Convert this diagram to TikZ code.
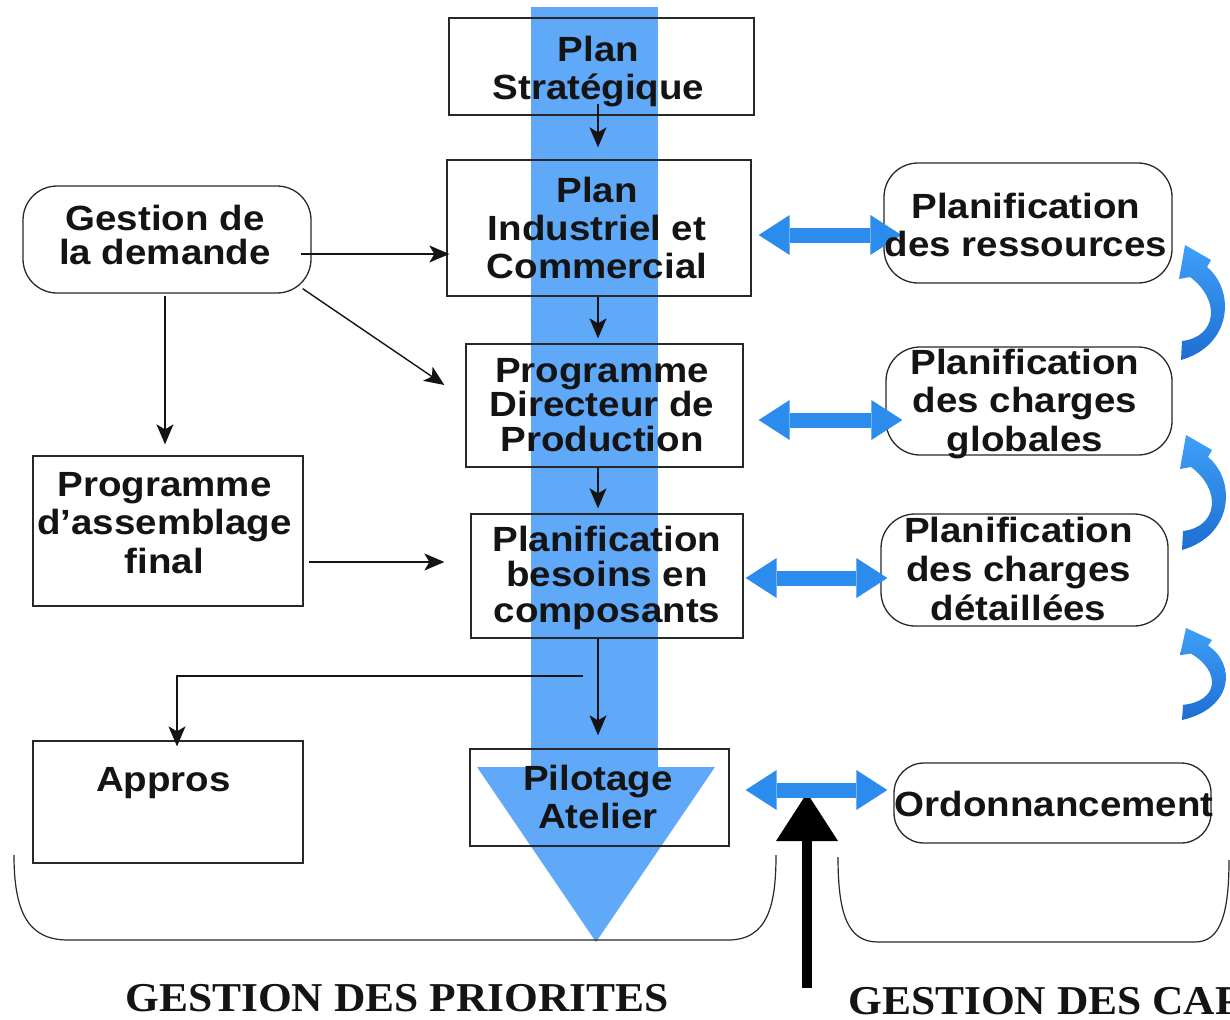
\documentclass[tikz,border=0pt]{standalone}
\usepackage{fontspec}
\usetikzlibrary{arrows.meta,calc}
\newfontfamily\lblfont{Liberation Sans}[FakeStretch=1.1]
\newfontfamily\capfont{Liberation Serif}[FakeStretch=1.06]
\definecolor{bandblue}{RGB}{96,168,248}
\definecolor{arrblue}{RGB}{44,140,238}
\definecolor{curvtop}{RGB}{62,160,248}
\definecolor{curvbot}{RGB}{30,110,210}
\definecolor{edge}{RGB}{40,40,40}
\definecolor{ink}{RGB}{20,20,20}
\begin{document}
\begin{tikzpicture}[x=1pt,y=-1pt,
  box/.style={draw=edge,line width=1.3pt,inner sep=0pt},
  rbox/.style={box,rounded corners=34pt},
  lbl/.style={font=\lblfont\bfseries\fontsize{35}{38}\selectfont,text=ink,align=center,inner sep=0pt},
  arr/.style={draw=ink,line width=1.4pt,-{Stealth[length=20pt,width=17pt,inset=5pt]}},
  dbl/.style={draw=arrblue,line width=15pt,{Triangle[length=31pt,width=40pt,line width=0pt]}-{Triangle[length=31pt,width=40pt,line width=0pt]}},
  brk/.style={draw=edge,line width=1.2pt},
  captxt/.style={font=\capfont\bfseries\fontsize{41}{44}\selectfont,text=ink,inner sep=0pt},
  curv/.pic={\shade[top color=curvtop,bottom color=curvbot]
     (0,0) -- (26,15) -- (22,22) .. controls (50,45) and (48,100) .. (-4,115)
     -- (-3,96) .. controls (32,92) and (36,55) .. (5,32) -- (-6,34) -- cycle;}
]
\fill[white] (0,0) rectangle (1230,1019);
\useasboundingbox (0,0) rectangle (1230,1019);

% blue priority band
\fill[bandblue] (531,7) rectangle (658,767);
\fill[bandblue] (477,767) -- (715,767) -- (596,942) -- cycle;

% boxes
\node[box,minimum width=305pt,minimum height=97pt] (ps) at (601.5,66.5) {};
\node[box,minimum width=304pt,minimum height=136pt] (pic) at (599,228) {};
\node[box,minimum width=277pt,minimum height=123pt] (pdp) at (604.5,405.5) {};
\node[box,minimum width=272pt,minimum height=124pt] (pbc) at (607,576) {};
\node[box,minimum width=259pt,minimum height=97pt] (pil) at (599.5,797.5) {};
\node[rbox,minimum width=288pt,minimum height=107pt] (gd) at (167,239.5) {};
\node[box,minimum width=270pt,minimum height=150pt] (pa) at (168,531) {};
\node[box,minimum width=270pt,minimum height=122pt] (app) at (168,802) {};
\node[rbox,minimum width=288pt,minimum height=120pt] (res) at (1028,223) {};
\node[rbox,minimum width=286pt,minimum height=108pt] (glo) at (1029,401) {};
\node[rbox,minimum width=287pt,minimum height=112pt] (det) at (1024.5,570) {};
\node[rbox,rounded corners=30pt,minimum width=317pt,minimum height=80pt] (ord) at (1052.5,803) {};

% brackets
\draw[brk] (14,855) .. controls (14,912) and (28,940) .. (68,940) -- (728,940) .. controls (768,940) and (776,905) .. (776,855);
\draw[brk] (838,857) .. controls (838,915) and (848,942) .. (878,942) -- (1195,942) .. controls (1220,942) and (1229,915) .. (1229,860);

% black arrows
\draw[arr] ([xshift=-3.5pt,yshift=12pt]ps.south) -- ([xshift=-1pt,yshift=12pt]pic.north);
\draw[arr] ([xshift=-1pt]pic.south) -- ([xshift=-6.5pt,yshift=5pt]pdp.north);
\draw[arr] ([xshift=-6.5pt]pdp.south) -- ([xshift=-9pt,yshift=5pt]pbc.north);
\draw[arr] ([xshift=-9pt]pbc.south) -- ([xshift=-1.5pt,yshift=13pt]pil.north);
\draw[arr] ([xshift=-11pt,yshift=-14.5pt]gd.east) -- ([xshift=3pt,yshift=-26pt]pic.west);
\draw[arr] ([xshift=-9pt,yshift=5pt]gd.south east) -- ([xshift=-21pt,yshift=20.5pt]pdp.west);
\draw[arr] ([xshift=-2pt,yshift=-2pt]gd.south) -- ([xshift=-3pt,yshift=11pt]pa.north);
\draw[arr] ([xshift=5pt,yshift=-31pt]pa.east) -- ([xshift=-26pt,yshift=14pt]pbc.west);
\coordinate (br) at (583,676);
\draw[arr] (br) -| ([xshift=9pt,yshift=-6pt]app.north);

% big black arrow (capacities)
\coordinate (bigtail) at (807,988);
\coordinate (bighead) at (807,793);
\draw[draw=black,line width=10pt,-{Triangle[length=48pt,width=62pt,line width=0pt]}] (bigtail) -- (bighead);

% blue double arrows
\draw[dbl] ([xshift=7pt,yshift=-7pt]pic.east) -- ([xshift=18pt,yshift=-12pt]res.west);
\draw[dbl] ([xshift=15pt,yshift=-14.5pt]pdp.east) -- ([xshift=17pt,yshift=-19pt]glo.west);
\draw[dbl] ([xshift=2pt,yshift=-2pt]pbc.east) -- ([xshift=7pt,yshift=-8pt]det.west);
\draw[dbl] ([xshift=16pt,yshift=7.5pt]pil.east) -- ([xshift=-6pt,yshift=13pt]ord.west);

% curved feedback arrows
\pic at (1185,245) {curv};
\pic at (1186,435) {curv};
\pic[yscale=0.8] at (1186,628) {curv};

% texts
\node[lbl] (psT) at (598.5,72) {Plan\\Stratégique};
\node[lbl] (picT) at (597,228) {Plan\\Industriel et\\Commercial};
\node[lbl,font=\lblfont\bfseries\fontsize{35}{34}\selectfont] (gdT) at (165,235) {Gestion de\\la demande};
\node[lbl,font=\lblfont\bfseries\fontsize{35}{34.5}\selectfont] (pdpT) at (602,405) {Programme\\Directeur de\\Production};
\node[lbl,font=\lblfont\bfseries\fontsize{35}{35.5}\selectfont] (pbcT) at (607,577.5) {Planification\\besoins en\\composants};
\node[lbl,font=\lblfont\bfseries\fontsize{35}{38.5}\selectfont] (paT) at (164.5,523) {Programme\\d’assemblage\\final};
\node[lbl] (appT) at (163.5,783) {Appros};
\node[lbl] (pilT) at (598,797) {Pilotage\\Atelier};
\node[lbl] (resT) at (1026,225) {Planification\\des ressources};
\node[lbl,font=\lblfont\bfseries\fontsize{35}{38.5}\selectfont] (gloT) at (1025,404) {Planification\\des charges\\globales};
\node[lbl,font=\lblfont\bfseries\fontsize{35}{39}\selectfont] (detT) at (1018.5,569) {Planification\\des charges\\détaillées};
\node[lbl] (ordT) at (1054,804) {Ordonnancement};

% bottom captions
\begin{scope}
\clip (0,0) rectangle (1230,1019);
\node[captxt,anchor=base west] (gprio) at (125,1011) {GESTION DES PRIORITES};
\node[captxt,anchor=base west] (gcap) at (848,1014) {GESTION DES CAPACITES};
\end{scope}
\end{tikzpicture}
\end{document}
